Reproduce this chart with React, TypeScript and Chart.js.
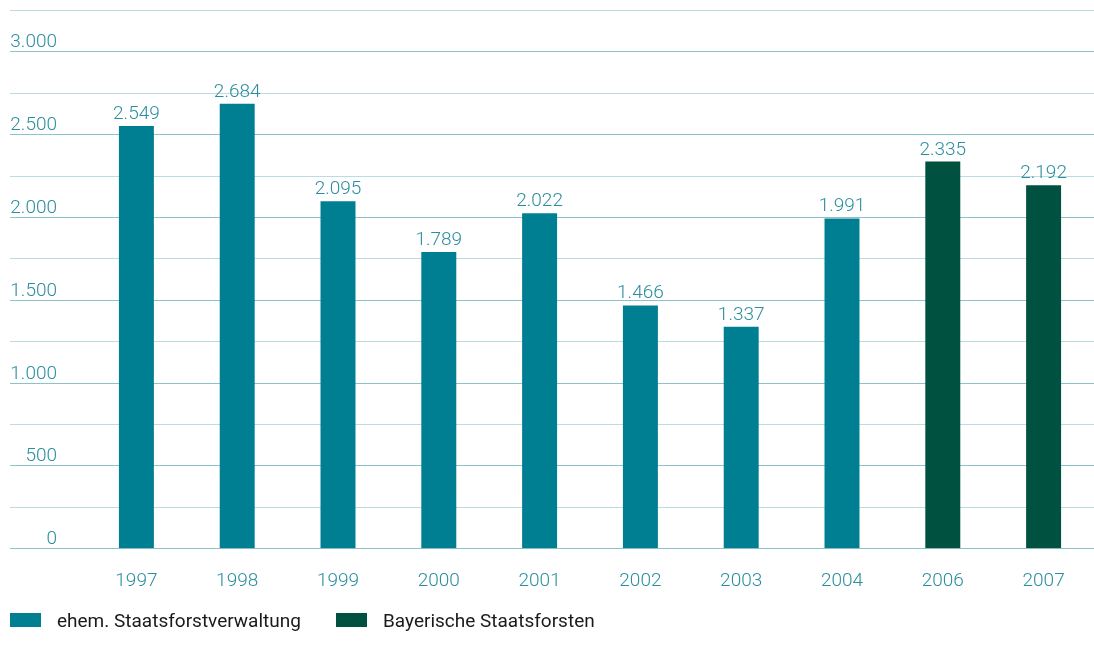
import React, { useEffect, useRef } from "react";
import { Chart, registerables } from "chart.js";

Chart.register(...registerables);

const categories = ["1997", "1998", "1999", "2000", "2001", "2002", "2003", "2004", "2006", "2007"];
const seriesOld = [2549, 2684, 2095, 1789, 2022, 1466, 1337, 1991, null, null];
const seriesNew = [null, null, null, null, null, null, null, null, 2335, 2192];
const seriesNames = ["ehem. Staatsforstverwaltung", "Bayerische Staatsforsten"];
const yTickValues = [0, 500, 1000, 1500, 2000, 2500, 3000];

const TEAL = "#007f93";
const GREEN = "#00513f";
const TEXT_TEAL = "#2a8e9e";
const FONT = "Roboto";

const fmt = (v: number) => v.toLocaleString("de-DE");

const overlayPlugin = {
  id: "overlay",
  beforeDatasetsDraw(chart: any) {
    const { ctx, scales } = chart;
    const y = scales.y;
    ctx.save();
    ctx.lineWidth = 1;
    for (let v = 0; v <= 3250; v += 250) {
      const py = Math.round(y.getPixelForValue(v)) + 0.5;
      ctx.strokeStyle = v % 500 === 0 ? "#8cc3cb" : "#b9dde2";
      ctx.beginPath();
      ctx.moveTo(10, py);
      ctx.lineTo(chart.width, py);
      ctx.stroke();
    }
    ctx.fillStyle = TEXT_TEAL;
    ctx.font = `300 19px ${FONT}`;
    ctx.textAlign = "right";
    ctx.textBaseline = "alphabetic";
    yTickValues.forEach((v) => {
      const py = y.getPixelForValue(v);
      ctx.fillText(fmt(v), 57, py - 4);
    });
    ctx.restore();
  },
  afterDatasetsDraw(chart: any) {
    const { ctx } = chart;
    ctx.save();
    ctx.fillStyle = TEXT_TEAL;
    ctx.font = `300 19px ${FONT}`;
    ctx.textAlign = "center";
    ctx.textBaseline = "alphabetic";
    chart.data.datasets.forEach((ds: any, di: number) => {
      const meta = chart.getDatasetMeta(di);
      meta.data.forEach((bar: any, i: number) => {
        const v = ds.data[i];
        if (v == null) return;
        ctx.fillText(fmt(v), bar.x, bar.y - 7);
      });
    });
    // legend
    ctx.font = `400 19px ${FONT}`;
    ctx.textAlign = "left";
    const items = [
      { box: 10, text: 57 },
      { box: 336, text: 383 },
    ];
    chart.data.datasets.forEach((ds: any, di: number) => {
      const it = items[di];
      ctx.fillStyle = ds.backgroundColor;
      ctx.fillRect(it.box, 613, 31, 14);
      ctx.fillStyle = "#1a1a1a";
      ctx.fillText(ds.label, it.text, 627);
    });
    ctx.restore();
  },
};

export default function App() {
  const ref = useRef<HTMLCanvasElement | null>(null);
  useEffect(() => {
    document.body.style.margin = "0";
    if (!ref.current) return;
    const chart = new Chart(ref.current, {
      type: "bar",
      data: {
        labels: categories,
        datasets: [
          { label: seriesNames[0], data: seriesOld, backgroundColor: TEAL, barPercentage: 0.347, categoryPercentage: 1, grouped: false } as any,
          { label: seriesNames[1], data: seriesNew, backgroundColor: GREEN, barPercentage: 0.347, categoryPercentage: 1, grouped: false } as any,
        ],
      },
      options: {
        animation: false,
        responsive: false,
        maintainAspectRatio: false,
        layout: { padding: { left: 86, right: 0, top: 10, bottom: 33 } },
        plugins: { legend: { display: false }, tooltip: { enabled: false } },
        scales: {
          x: {
            offset: true,
            grid: { display: false, drawTicks: false },
            border: { display: false },
            ticks: { color: TEXT_TEAL, font: { family: FONT, size: 19, weight: 300 as any }, padding: 22 },
          },
          y: {
            min: 0,
            max: 3250,
            grid: { display: false, drawTicks: false },
            border: { display: false },
            ticks: { display: false, stepSize: 250 },
          },
        },
      },
      plugins: [overlayPlugin],
    });
    return () => chart.destroy();
  }, []);
  return (
    <div style={{ width: 1094, height: 648, position: "relative" }}>
      <canvas ref={ref} width={1094} height={648} style={{ width: 1094, height: 648, display: "block" }} />
    </div>
  );
}
